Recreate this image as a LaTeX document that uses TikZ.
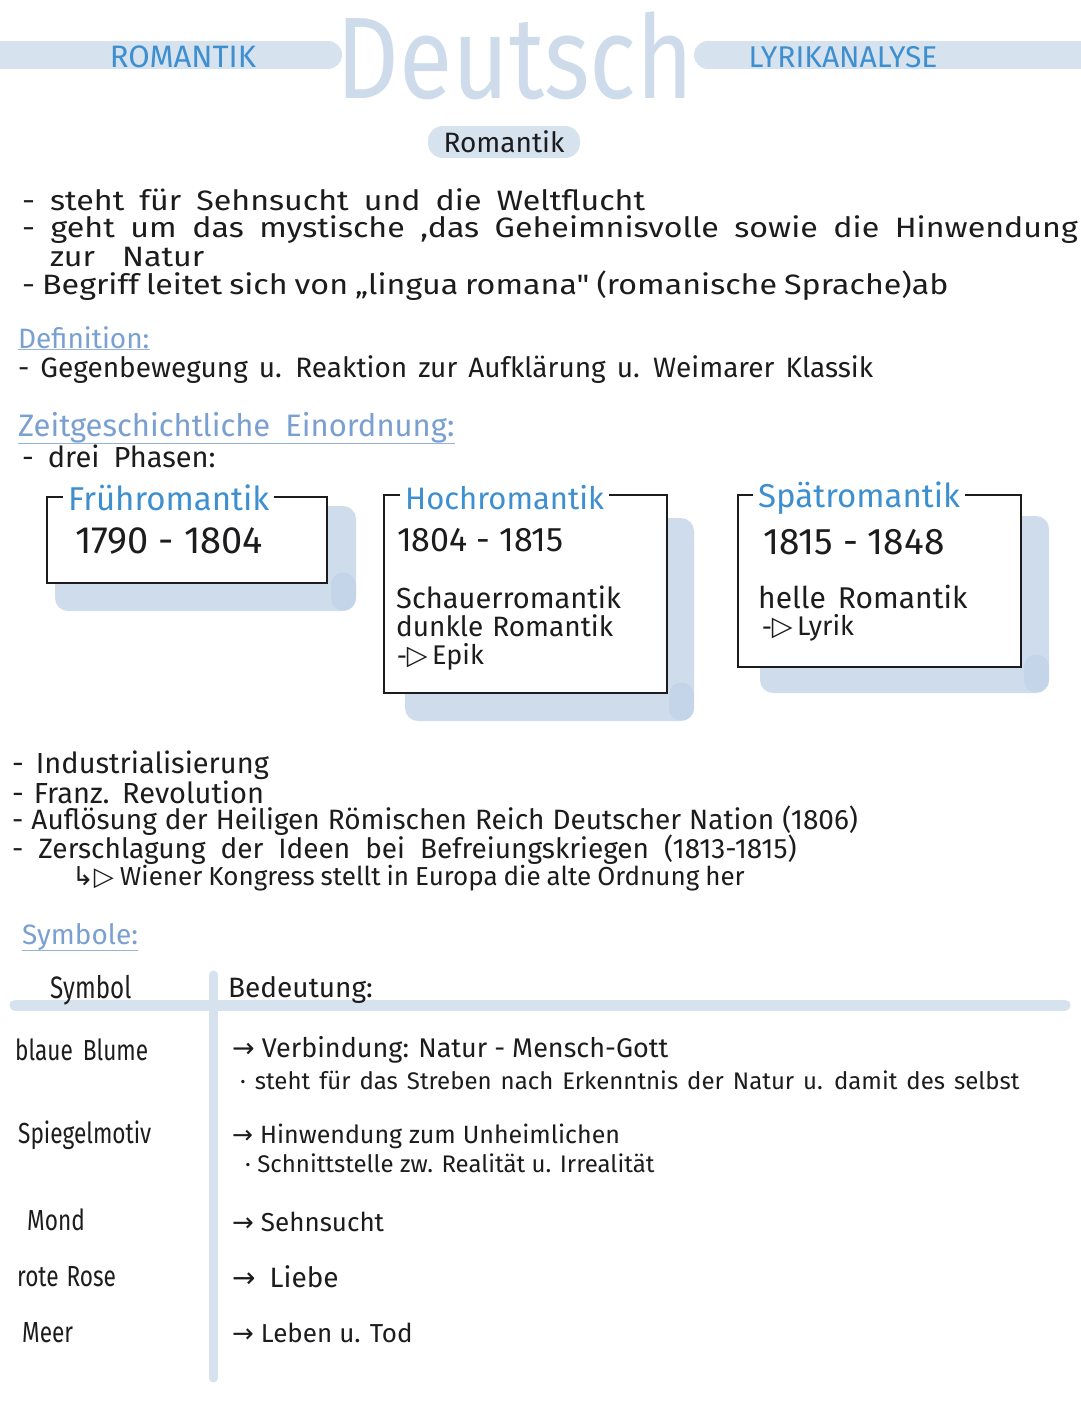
\documentclass[tikz,border=0pt]{standalone}
\usepackage{fontspec}
\setmainfont{Fira Sans}
\newfontfamily\titlefont{Fira Sans}[FakeStretch=0.84]
\newfontfamily\widefont{Fira Sans}[FakeStretch=1.15]
\newfontfamily\narrowfont{Fira Sans}[FakeStretch=0.78]
\newfontfamily\symfont{DejaVu Sans}
\usepackage{tikz}
\usetikzlibrary{positioning}
\definecolor{barblue}{RGB}{214,226,238}
\definecolor{shadowblue}{RGB}{207,220,236}
\definecolor{shadowdark}{RGB}{196,212,233}
\definecolor{inkblue}{RGB}{61,143,208}
\definecolor{headblue}{RGB}{122,160,210}
\definecolor{ink}{RGB}{28,28,30}
\newcommand\wordgap[1]{\spaceskip=#1pt plus 1pt\relax}
\tikzset{
  txt/.style={anchor=west, inner sep=0pt, text=ink, font=\fontsize{28}{30}\selectfont},
  smalltxt/.style={txt, font=\fontsize{24}{26}\selectfont},
  hw/.style 2 args={font=\fontsize{#1}{#1}\selectfont, execute at begin node={\wordgap{#2}}},
  hwwide/.style 2 args={font=\widefont\fontsize{#1}{#1}\selectfont, execute at begin node={\wordgap{#2}}},
  hwnarrow/.style 2 args={font=\narrowfont\fontsize{#1}{#1}\selectfont, execute at begin node={\wordgap{#2}}},
  head/.style={anchor=west, inner sep=0pt, text=headblue, font=\fontsize{28}{30}\selectfont},
  uline/.style={headblue!80, line width=1.2pt},
  bar/.style={barblue, line width=28pt, line cap=round},
  tabbar/.style={barblue, line width=9pt, line cap=round},
  boxshadow/.style={fill=shadowblue, rounded corners=13pt},
  shadowend/.style={shadowdark, line width=25pt, line cap=round},
  phasebox/.style={draw=ink, line width=1.6pt, fill=white, inner sep=0pt},
  phasetitle/.style={anchor=west, fill=white, inner xsep=5pt, inner ysep=0pt, text=inkblue, font=\fontsize{33}{34}\selectfont}
}
\begin{document}
\begin{tikzpicture}[x=1pt, y=-1pt]
    \useasboundingbox (0,0) rectangle (1080,1417);
    \fill[white] (0,0) rectangle (1080,1417);

    % header
    \draw[bar] (-20,55) -- (328,55);
    \draw[bar] (708,55) -- (1100,55);
    \node[inner sep=0pt, text=barblue!90!headblue, font=\titlefont\fontsize{116}{116}\selectfont] (deutsch) at (515,56) {Deutsch};
    \node[inner sep=0pt, text=inkblue, font=\fontsize{31}{31}\selectfont] (romtag) at (183,57) {ROMANTIK};
    \node[inner sep=0pt, text=inkblue, font=\fontsize{30}{30}\selectfont] (lyrtag) at (843,57) {LYRIKANALYSE};
    \node[fill=barblue, rounded corners=15pt, minimum width=152pt, minimum height=32pt, inner sep=0pt, text=ink, font=\fontsize{28}{30}\selectfont] (title) at (504,142) {Romantik};

    % intro
    \node[txt, hwwide={28}{15}] (l1) at (22,200) {- steht für Sehnsucht und die Weltflucht};
    \node[txt, hwwide={28}{15.5}] (l2) at (22,230) {- geht um das mystische ,das Geheimnisvolle sowie die Hinwendung};
    \node[txt, hwwide={28}{27}] (l3) at (50,257) {zur Natur};
    \node[txt, hwwide={28}{7}] (l4) at (22,286) {- Begriff leitet sich von „lingua romana" (romanische Sprache)ab};

    \node[head] (defhead) at (18,338) {Definition:};
    \draw[uline] (defhead.south west) -- (defhead.south east);
    \node[txt, hw={28}{11}] (def) at (18,370) {- Gegenbewegung u. Reaktion zur Aufklärung u. Weimarer Klassik};

    \node[head, hw={31}{15}] (zeithead) at (18,428) {Zeitgeschichtliche Einordnung:};
    \draw[uline] (zeithead.south west) -- (zeithead.south east);
    \node[txt, hw={29}{14}] (phasen) at (22,456) {- drei Phasen:};

    % phases
    \fill[boxshadow] (55,506) rectangle (356,611);
    \fill[boxshadow] (405,518) rectangle (694,721);
    \fill[boxshadow] (760,516) rectangle (1049,693);
    \draw[shadowend] (343,585) -- (343,598);
    \draw[shadowend] (681,695) -- (681,708);
    \draw[shadowend] (1036,667) -- (1036,680);
    \node[phasebox, minimum width=280pt, minimum height=86pt] (frueh) at (187,540) {};
    \node[phasebox, minimum width=283pt, minimum height=198pt] (hoch) at (525.5,594) {};
    \node[phasebox, minimum width=283pt, minimum height=172pt] (spaet) at (879.5,581) {};
    \node[phasetitle] (fruehtitle) at (63,498) {Frühromantik};
    \node[phasetitle, font=\fontsize{31}{32}\selectfont] (hochtitle) at (400,498) {Hochromantik};
    \node[phasetitle] (spaettitle) at (753,498) {Spätromantik};

    \node[txt, hw={38}{10}] (fruehyear) at (75,541) {1790 - 1804};
    \node[txt, hw={34}{9}] (hochyear) at (397,540) {1804 - 1815};
    \node[txt, hw={29}{8}] (schauer) at (396,597) {Schauerromantik};
    \node[txt, hw={28}{9}] (dunkel) at (396,626) {dunkle Romantik};
    \node[txt, hw={27}{6}] (epik) at (397,657) {{\symfont -▷}\,Epik};
    \node[txt, hw={37}{10}] (spaetyear) at (763,542) {1815 - 1848};
    \node[txt, hw={30}{12}] (hell) at (758,597) {helle Romantik};
    \node[txt, hw={27}{6}] (lyrik) at (762,628) {{\symfont -▷}\,Lyrik};

    % background events
    \node[txt, hw={29}{12}] (e1) at (12,765) {- Industrialisierung};
    \node[txt, hw={29}{10}] (e2) at (12,792) {- Franz. Revolution};
    \node[txt, hw={28}{8}] (e3) at (12,821) {- Auflösung der Heiligen Römischen Reich Deutscher Nation (1806)};
    \node[txt, hw={28}{15}] (e4) at (12,850) {- Zerschlagung der Ideen bei Befreiungskriegen (1813-1815)};
    \node[txt, hw={26}{6}] (e5) at (72,878) {{\symfont ↳▷} Wiener Kongress stellt in Europa die alte Ordnung her};

    % symbols
    \node[head] (symhead) at (22,937) {Symbole:};
    \draw[uline] (symhead.south west) -- (symhead.south east);
    \draw[tabbar] (213,975) -- (213,1378);
    \draw[tabbar, line width=11pt] (15,1005) -- (1065,1005);
    \node[txt, hwnarrow={31}{7}] (colsym) at (50,990) {Symbol};
    \node[txt] (colbed) at (228,990) {Bedeutung:};

    \node[txt, hwnarrow={29}{10}] (blume) at (15,1050) {blaue Blume};
    \node[txt, hw={27}{7}] (blumea) at (232,1050) {{\symfont →} Verbindung: Natur - Mensch-Gott};
    \node[smalltxt, hw={24}{9}] (blumeb) at (240,1080) {· steht für das Streben nach Erkenntnis der Natur u. damit des selbst};
    \node[txt, hwnarrow={29}{7}] (spiegel) at (18,1135) {Spiegelmotiv};
    \node[txt, hw={25}{7}] (spiegela) at (232,1136) {{\symfont →} Hinwendung zum Unheimlichen};
    \node[smalltxt] (spiegelb) at (245,1163) {· Schnittstelle zw. Realität u. Irrealität};
    \node[txt, hwnarrow={29}{7}] (mond) at (27,1220) {Mond};
    \node[txt, hw={26}{7}] (monda) at (232,1222) {{\symfont →} Sehnsucht};
    \node[txt, hwnarrow={29}{8}] (rose) at (17,1277) {rote Rose};
    \node[txt] (rosea) at (232,1277) {{\symfont →}\enspace Liebe};
    \node[txt, hwnarrow={29}{7}] (meer) at (22,1333) {Meer};
    \node[txt, hw={26}{7}] (meera) at (232,1333) {{\symfont →} Leben u. Tod};
\end{tikzpicture}
\end{document}
